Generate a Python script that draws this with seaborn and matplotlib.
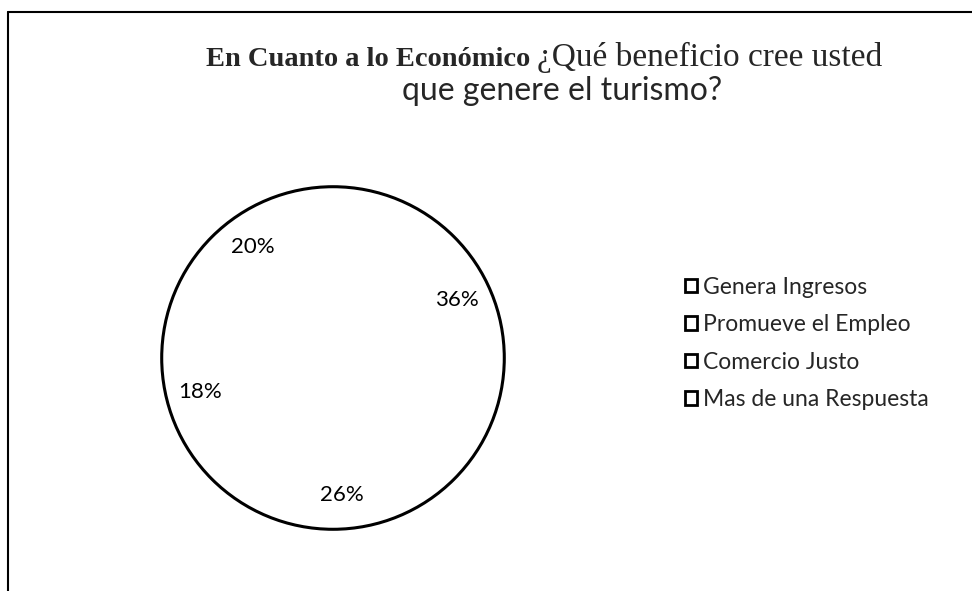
import matplotlib.pyplot as plt
import seaborn as sns
from matplotlib.lines import Line2D
from matplotlib.patches import Circle

# data
categories = ['Genera Ingresos', 'Promueve el Empleo', 'Comercio Justo', 'Mas de una Respuesta']
shares = [36, 26, 18, 20]

sns.set_theme(style="white")
plt.rcParams['font.family'] = ['Lato', 'DejaVu Sans']

fig = plt.figure(figsize=(9.72, 5.91), dpi=100)
fig.patch.set_facecolor('white')

# pie axes: centre ~ (333, 358) px, radius ~ 173 px
ax = fig.add_axes([160 / 972, 1 - 531 / 591, 346 / 972, 346 / 591])
colors = ['white'] * len(shares)
wedges, texts, autotexts = ax.pie(
    shares, colors=colors, startangle=90, counterclock=False,
    autopct='%1.0f%%', pctdistance=0.8,
    wedgeprops=dict(edgecolor='none'),
    textprops=dict(fontsize=16, color='black'),
)
ax.add_patch(Circle((0, 0), 1, fill=False, edgecolor='black', linewidth=2.2))
ax.set_xlim(-1.01, 1.01)
ax.set_ylim(-1.01, 1.01)
ax.set_aspect('equal')

# legend with hollow square keys
leg = fig.legend(wedges, categories, loc='upper left',
                 bbox_to_anchor=(664 / 972, 1 - 256 / 591),
                 frameon=False, fontsize=16.5, handlelength=0.55, handleheight=0.55,
                 handletextpad=0.25, labelspacing=0.72)
for h in leg.legend_handles:
    h.set_edgecolor('black')
    h.set_linewidth(2)

# title: bold serif part, regular serif part, then sans second line
fig.text(530 / 972, 1 - 66 / 591, 'En Cuanto a lo Económico', ha='right', va='baseline',
         fontsize=20.5, fontweight='bold', family=['Liberation Serif', 'DejaVu Serif'])
fig.text(537 / 972, 1 - 66 / 591, '¿Qué beneficio cree usted', ha='left', va='baseline',
         fontsize=24, family=['Liberation Serif', 'DejaVu Serif'])
fig.text(562 / 972, 1 - 100 / 591, 'que genere el turismo?', ha='center', va='baseline',
         fontsize=23)

# scanned frame (top and left edges)
fig.add_artist(Line2D([8 / 972, 1], [1 - 12 / 591, 1 - 12 / 591], color='black', linewidth=1.5,
                      transform=fig.transFigure))
fig.add_artist(Line2D([8 / 972, 8 / 972], [0, 1 - 12 / 591], color='black', linewidth=1.5,
                      transform=fig.transFigure))

fig.savefig('out.png', dpi=100)
